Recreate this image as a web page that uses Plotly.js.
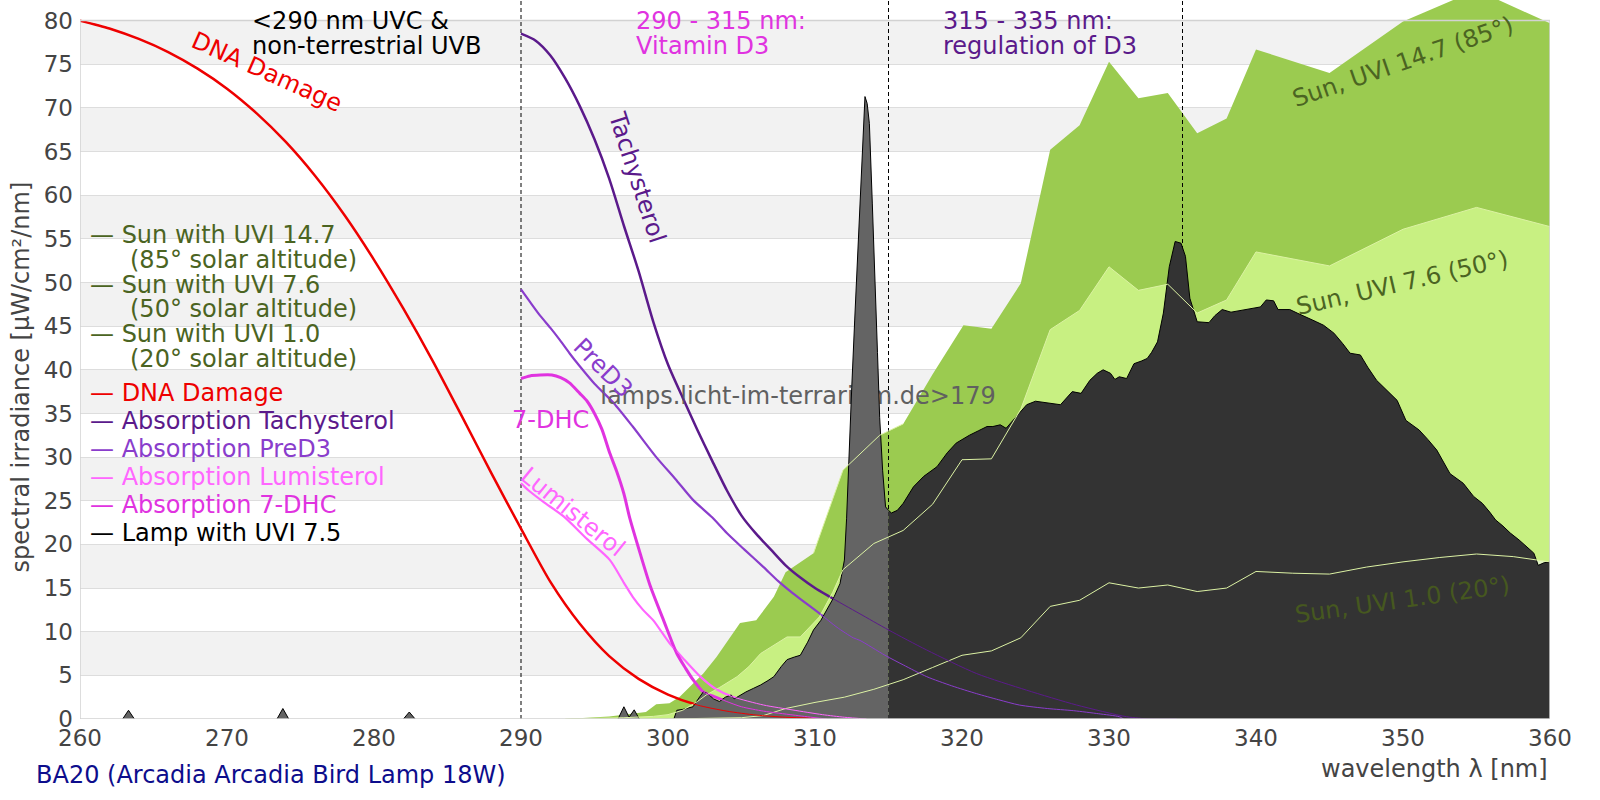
<!DOCTYPE html>
<html><head><meta charset="utf-8">
<script src="https://cdn.plot.ly/plotly-3.0.1.min.js"></script>
<style>html,body{margin:0;padding:0;background:#fff}#chart{width:1600px;height:800px}</style>
</head><body><div id="chart"></div>
<script>
// ---------- DATA ----------
const xTicks = [260,270,280,290,300,310,320,330,340,350,360];
const yTicks = [0,5,10,15,20,25,30,35,40,45,50,55,60,65,70,75,80];
const regionBounds = [290, 315, 335];

const dnaX = [260,262,264,266,268,270,272,274,276,278,280,282,284,286,288,290,292,294,296,298,300,302,304,306,308,310];
const dnaY = [80,79.1,77.9,76.4,74.5,72.2,69.4,66.1,62.2,57.7,52.6,47.0,41.0,34.6,28.1,21.8,15.7,10.9,7.2,4.6,2.8,1.6,0.9,0.45,0.2,0.1];

const tachyX = [290,291,292,293,294,295,296,297,298,299,300,301,302,303,304,305,306,307,308,309,310,311,313,315,317.6,321,324.4,327.8,331.2,332.8,334.6];
const tachyY = [78.5,77.7,76.0,73.4,70.2,66.4,61.9,56.5,51.3,45.5,40.6,36.8,33.1,29.6,26.2,23.3,21.2,19.4,17.6,16.2,15.0,14.0,12.1,10.2,7.9,5.2,3.3,1.6,0.26,0,0];

const predX = [290,290.6,291.3,292,292.65,293.3,294,295,296.3,297.6,299.2,300.5,301.7,303,304,305.2,306.5,307.5,308.5,310.3,311.5,312.6,313.06,314.76,316,317.6,319.3,321,322.5,323.9,325.8,327.6,329.3,330.7,331];
const predY = [49.2,47.8,46.2,44.8,43.4,41.9,40.4,38.4,36.2,33.5,30.0,27.5,25.1,23.1,21.3,19.4,17.4,15.8,14.4,12.1,10.5,9.3,9.0,7.3,6.2,4.85,3.8,2.9,2.2,1.6,1.2,0.95,0.6,0.26,0];

const dhcX = [290,290.6,291.3,292.1,292.7,293.3,294,294.5,295,295.5,296.05,296.5,297,297.4,298.1,298.8,299.7,300.6,301.2,301.7,302.4,303.1,304,305,306.5,308.5,310,310.8];
const dhcY = [39.0,39.3,39.4,39.4,39.1,38.5,37.3,36.4,35.0,33.2,30.4,28.4,25.8,23.0,19.0,15.2,11.3,7.5,5.8,4.5,3.1,2.6,2.0,1.4,0.9,0.46,0.15,0];

const lumiX = [290,290.5,291.5,292.9,294.5,296.05,297,297.6,298.3,299,300.1,301,302.2,303.2,304.4,306.5,308.5,310.5,312,313.5];
const lumiY = [27.0,26.2,24.9,23.2,20.6,18.2,15.6,14.0,12.5,11.3,8.7,7.0,4.85,3.5,2.55,1.6,1.03,0.5,0.2,0];

const sun147X = [293,294,296,298.5,299.2,300.1,300.8,302.4,303.3,304.9,306,307.2,308,309.9,311.9,314.4,316,318,320.1,322,324,326,328,330,332,334,336,338,340,345,350,355,360];
const sun147Y = [0,0.1,0.3,0.8,1.7,1.8,2.55,5.2,7.1,11.0,11.3,14.0,16.8,19.0,28.5,32.5,33.8,39.5,45.1,44.7,49.9,65.2,68.0,75.3,71.1,71.7,67.1,68.8,76.7,74.0,79.9,83.5,79.7];

const sun76X = [293,295,297,299,300,301,302,302.6,303.5,304.7,305.5,306.3,307.2,308.1,309,310.3,311.2,311.9,314,316,318,320,322,324,326,328,330,332,334,336,338,340,345,350,355,360];
const sun76Y = [0,0.05,0.15,0.3,0.5,1.0,2.0,2.75,3.6,4.85,6.0,7.5,8.5,9.4,9.4,11.7,14.5,17.1,20.1,21.6,24.6,29.7,29.8,35.5,44.6,46.8,51.8,49.1,49.8,46.5,48.0,53.5,51.9,56.1,58.6,56.4];

const sun10X = [300,303,305,306.5,308,310,312,314,316,318,320,322,324,326,328,330,332,334,336,338,340,342.5,345,347.5,350,352.5,355,357.5,360];
const sun10Y = [0,0.05,0.15,0.4,1.2,1.9,2.5,3.4,4.5,5.9,7.3,7.8,9.3,12.9,13.6,15.6,15.0,15.35,14.6,15.0,16.9,16.7,16.6,17.4,18.0,18.5,18.9,18.6,18.0];

const lampX = [262.9,263.3,263.7,null,273.4,273.8,274.2,null,282.0,282.4,282.8,null,296.6,297.0,297.35,297.7,298.05,null,
 300.4,300.6,301.0,301.7,302.1,302.4,302.7,303.1,303.5,303.9,304.3,304.5,304.9,305.3,305.8,306.3,306.8,307.2,307.7,308.1,308.6,309.0,309.5,309.9,310.4,310.8,311.3,311.7,312.0,312.15,312.3,312.5,312.7,312.9,313.1,313.3,313.4,313.55,313.7,313.9,314.1,314.25,314.4,314.6,314.8,315.0,
 315.2,315.6,316.0,316.7,317.4,318.3,319.0,319.6,320.5,321.1,321.7,322.1,322.6,323.0,323.6,324.4,325.0,325.5,326.2,326.7,327.5,328.1,328.7,329.2,329.6,330.1,330.4,330.7,331.2,331.7,332.2,332.6,332.9,333.3,333.7,334.1,334.5,334.9,335.2,335.5,336.0,336.8,337.2,337.7,338.3,339.0,339.6,340.3,340.7,341.2,341.5,342.3,342.8,343.5,344.1,344.6,345.3,345.9,346.4,347.1,347.6,348.2,348.9,349.6,350.2,351.1,351.7,352.3,353.2,354.1,354.8,355.4,355.9,356.3,356.8,357.3,357.9,358.4,358.9,359.2,359.6,360.0];
const lampY = [0,1.0,0,null,0,1.2,0,null,0,0.8,0,null,0,1.4,0.2,1.05,0,null,
 0,1.0,1.1,1.4,2.4,3.1,2.9,2.3,2.0,2.5,2.75,2.3,2.7,3.1,3.5,3.9,4.4,4.85,6.0,6.8,7.1,7.3,8.8,10.2,11.3,12.5,14.0,15.5,18.2,23,30.4,38,45.7,53,60,68.5,71.3,70.5,68.2,59,50.3,42,34.5,28.5,24.3,23.9,
 23.6,23.9,24.7,26.6,27.8,28.9,30.5,31.6,32.5,33.0,33.5,33.5,33.7,33.3,34.5,36.0,36.4,36.3,36.1,36.0,37.5,37.3,38.8,39.6,40.0,39.6,38.9,39.2,39.0,40.7,41.0,41.3,42.0,43.2,46.5,51.8,54.7,54.5,53.0,48.2,45.5,45.4,46.2,46.9,46.6,46.8,47.0,47.2,48.0,47.9,46.9,46.9,46.5,46.0,45.5,45.1,44.2,43.0,41.9,41.7,40.3,38.8,37.6,36.5,34.2,33.1,32.0,30.8,28.1,27.0,25.5,24.7,23.7,22.8,22.1,21.3,20.5,19.7,19.0,17.6,17.9,18.0];

// ---------- STYLE / LAYOUT ----------
const FONT = 'DejaVu Sans';
const FS = 24, TICKFS = 23;
const W = 1600, H = 800, ML = 80, MR = 50, MT = 0, MB = 81;
const PW = W - ML - MR, PH = H - MT - MB;
const YTOP = 80 * PH / (PH - 20.6);
const ax = X => (X - ML) / PW;
const ay = Y => (PH - Y) / PH;

const C = {
  sun147: '#9bcb50', sun76: '#c8f082', sun10: '#e2f5c4', sunLine: '#dcf2a4',
  dna: '#ee0000', tachy: '#5b1a8b', pred: '#8a3dcc', lumi: '#ff66ff', dhc: '#e033e0',
  lampA: '#646464', lampB: '#333333', sunText: '#4b6422'
};

const traces = [];
function fillTrace(x, y, color) {
  return {x, y, type: 'scatter', mode: 'lines', fill: 'tozeroy', fillcolor: color,
          line: {width: 0, color: color}, hoverinfo: 'skip'};
}
function lineTrace(x, y, color, width, dash, smooth) {
  const line = {color, width, dash: dash || 'solid'};
  if (smooth) { line.shape = 'spline'; line.smoothing = 0.7; }
  return {x, y, type: 'scatter', mode: 'lines', line, hoverinfo: 'skip'};
}
traces.push(fillTrace(sun147X, sun147Y, C.sun147));
traces.push(fillTrace(sun76X, sun76Y, C.sun76));
traces.push(fillTrace(sun10X, sun10Y, C.sun10));
regionBounds.forEach(b => traces.push(lineTrace([b, b], [0, YTOP], '#000', 1, '4px,3px')));

const curves = [
  [dnaX, dnaY, C.dna, 2.5],
  [tachyX, tachyY, C.tachy, 2.5],
  [predX, predY, C.pred, 2.2],
  [lumiX, lumiY, C.lumi, 2.2],
  [dhcX, dhcY, C.dhc, 3]
];
curves.forEach(c => traces.push(lineTrace(c[0], c[1], c[2], c[3], null, true)));

// watermark (drawn under the lamp)
traces.push({x: [260 + (798 - ML) / PW * 100], y: [(PH - 398) / PH * YTOP], type: 'scatter', mode: 'text',
  text: ['lamps.licht-im-terrarium.de>179'], textfont: {family: FONT, size: FS, color: '#606060'},
  textposition: 'middle center', hoverinfo: 'skip'});

// lamp split at 315 nm
const aX = [], aY = [], bX = [], bY = [];
lampX.forEach((x, i) => {
  if (x === null) { aX.push(null); aY.push(null); return; }
  if (x <= 315) { aX.push(x); aY.push(lampY[i]); }
  if (x >= 315) { bX.push(x); bY.push(lampY[i]); }
});
traces.push({x: aX, y: aY, type: 'scatter', mode: 'lines', fill: 'tozeroy', fillcolor: C.lampA,
  line: {color: '#000', width: 1}, connectgaps: false, hoverinfo: 'skip'});
traces.push({x: bX, y: bY, type: 'scatter', mode: 'lines', fill: 'tozeroy', fillcolor: C.lampB,
  line: {color: '#000', width: 1}, hoverinfo: 'skip'});

// thin sun lines over lamp
const s147x = [], s147y = [];
sun147X.forEach((x, i) => { if (x >= 309.9 && x <= 316) { s147x.push(x); s147y.push(sun147Y[i]); } });
traces.push(lineTrace(s147x, s147y, C.sunLine, 1));
traces.push(lineTrace(sun76X, sun76Y, C.sunLine, 1));
traces.push(lineTrace(sun10X, sun10Y, C.sunLine, 1));
curves.forEach(c => traces.push(lineTrace(c[0], c[1], c[2], 1, null, true)));

// bands
const shapes = [];
for (let v = 5; v < 80; v += 10) {
  shapes.push({type: 'rect', xref: 'x', yref: 'y', x0: 260, x1: 360, y0: v, y1: v + 5,
    fillcolor: '#f2f2f2', line: {width: 0}, layer: 'below'});
}
shapes.push({type: 'rect', xref: 'x', yref: 'y', x0: 260, x1: 360, y0: 0, y1: 80,
  line: {color: '#d2d2d2', width: 1.5}, fillcolor: 'rgba(0,0,0,0)', layer: 'above'});

const ann = [];
function A(text, X, Y, color, opts) {
  ann.push(Object.assign({text, x: ax(X), y: ay(Y), xref: 'paper', yref: 'paper', showarrow: false,
    xanchor: 'left', yanchor: 'middle', font: {family: FONT, size: FS, color}}, opts || {}));
}
A('&lt;290 nm UVC &amp;', 250, 20.5, '#000');
A('non-terrestrial UVB', 250, 45.5, '#000');
A('290 - 315 nm:', 634, 20.5, C.dhc);
A('Vitamin D3', 634, 45.5, C.dhc);
A('315 - 335 nm:', 941, 20.5, C.tachy);
A('regulation of D3', 941, 45.5, C.tachy);

A('DNA Damage', 267, 72, C.dna, {xanchor: 'center', textangle: 24});
A('Tachysterol', 637, 177, C.tachy, {xanchor: 'center', textangle: 72});
A('PreD3', 603, 368, C.pred, {xanchor: 'center', textangle: 45});
A('7-DHC', 550, 420, C.dhc, {xanchor: 'center'});
A('Lumisterol', 573, 512, C.lumi, {xanchor: 'center', textangle: 39});
A('Sun, UVI 14.7 (85°)', 1403, 62, C.sunText, {xanchor: 'center', textangle: -19});
A('Sun, UVI 7.6 (50°)', 1402, 283, C.sunText, {xanchor: 'center', textangle: -13});
A('Sun, UVI 1.0 (20°)', 1402, 600, '#46581f', {xanchor: 'center', textangle: -8});

// legend-like text block
const sunLegend = [['— Sun with UVI 14.7', 0], ['(85° solar altitude)', 1], ['— Sun with UVI 7.6', 0],
  ['(50° solar altitude)', 1], ['— Sun with UVI 1.0', 0], ['(20° solar altitude)', 1]];
sunLegend.forEach((s, i) => A(s[0], s[1] ? 128 : 88, 235 + i * 24.8, C.sunText));
const curveLegend = [['— DNA Damage', C.dna], ['— Absorption Tachysterol', C.tachy], ['— Absorption PreD3', C.pred],
  ['— Absorption Lumisterol', C.lumi], ['— Absorption 7-DHC', C.dhc], ['— Lamp with UVI 7.5', '#000']];
curveLegend.forEach((s, i) => A(s[0], 88, 393.3 + i * 28, s[1]));

A('spectral irradiance [µW/cm²/nm]', 20.5, 377, '#444', {xanchor: 'center', textangle: -90});
A('wavelength λ [nm]', 1550, 769, '#444', {xanchor: 'right'});
A('BA20 (Arcadia Arcadia Bird Lamp 18W)', 34, 775, '#0d0d8c');

const layout = {
  width: W, height: H, margin: {l: ML, r: MR, t: MT, b: MB, pad: 0},
  paper_bgcolor: '#fff', plot_bgcolor: '#fff', showlegend: false, hovermode: false,
  font: {family: FONT, size: FS, color: '#444'},
  xaxis: {range: [260, 360], tickvals: xTicks, ticktext: xTicks.map(String), showgrid: false, zeroline: false,
    showline: false, ticks: '', tickfont: {family: FONT, size: TICKFS, color: '#444'}, ticklabelstandoff: 3, fixedrange: true},
  yaxis: {range: [0, YTOP], tickvals: yTicks, ticktext: yTicks.map(String), showgrid: true, gridcolor: '#dddddd',
    gridwidth: 1, zeroline: false, showline: false, ticks: '', tickfont: {family: FONT, size: TICKFS, color: '#444'},
    ticklabelstandoff: 6, fixedrange: true},
  shapes, annotations: ann
};
Plotly.newPlot('chart', traces, layout, {displayModeBar: false, staticPlot: true});
</script></body></html>
